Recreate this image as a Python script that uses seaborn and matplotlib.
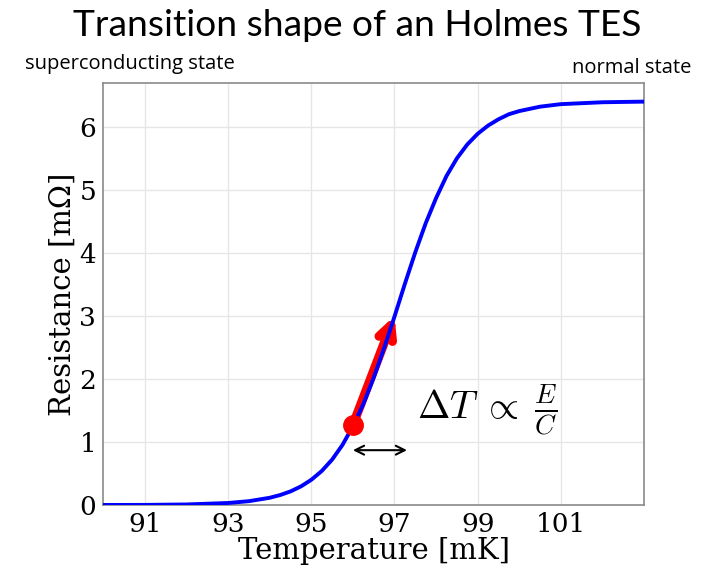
import numpy as np
import pandas as pd
import matplotlib
matplotlib.use("Agg")
import matplotlib.pyplot as plt
import seaborn as sns

# Data
temperature_mK = [90.0, 91.0, 92.0, 93.0, 93.5, 94.0, 94.25, 94.5, 94.75, 95.0,
                  95.25, 95.5, 95.75, 96.0, 96.25, 96.5, 96.75, 97.0, 97.25,
                  97.5, 97.75, 98.0, 98.25, 98.5, 98.75, 99.0, 99.25, 99.5,
                  99.75, 100.0, 100.5, 101.0, 102.0, 103.0]
resistance_mohm = [0.001, 0.002, 0.009, 0.032, 0.061, 0.115, 0.158, 0.216, 0.295, 0.40,
                   0.539, 0.72, 0.954, 1.25, 1.60, 2.02, 2.49, 2.99, 3.51,
                   4.01, 4.47, 4.87, 5.22, 5.50, 5.72, 5.89, 6.02, 6.12,
                   6.20, 6.25, 6.32, 6.36, 6.39, 6.40]
x_ticks = [91, 93, 95, 97, 99, 101]
y_ticks = [0, 1, 2, 3, 4, 5, 6]
dot_point = (96.0, 1.27)
arrow_tip = (97.0, 3.0)
dt_span = (96.0, 97.3)
dt_level = 0.87

df = pd.DataFrame({"T": temperature_mK, "R": resistance_mohm})

sns.set_style("whitegrid")
plt.rcParams["mathtext.fontset"] = "cm"
plt.rcParams["text.color"] = "black"
plt.rcParams["axes.labelcolor"] = "black"
plt.rcParams["xtick.color"] = "black"
plt.rcParams["ytick.color"] = "black"

fig = plt.figure(figsize=(7.15, 5.72), dpi=100)
ax = fig.add_axes([0.1445, 0.1171, 0.7563, 0.7383])

# red arrow (below curve)
ax.annotate("", xy=arrow_tip, xytext=dot_point,
            arrowprops=dict(arrowstyle="->", color="red", lw=6.5, mutation_scale=26,
                            shrinkA=0, shrinkB=0), zorder=2)

sns.lineplot(data=df, x="T", y="R", ax=ax, color="blue", lw=2.8, zorder=3)

ax.plot([dot_point[0]], [dot_point[1]], "o", color="red", markersize=14, zorder=4)

ax.annotate("", xy=(dt_span[1], dt_level), xytext=(dt_span[0], dt_level),
            arrowprops=dict(arrowstyle="<->", color="black", lw=1.5, mutation_scale=16,
                            shrinkA=0, shrinkB=0), zorder=4)

ax.text(97.55, 1.5, r"$\Delta T\;\propto\;\frac{E}{C}$", fontsize=28,
        va="center", ha="left", zorder=5)

ax.set_xlim(90, 103)
ax.set_ylim(0, 6.7)
ax.set_xticks(x_ticks)
ax.set_yticks(y_ticks)
ax.grid(True, color="#e6e6e6", lw=1)
for s in ax.spines.values():
    s.set_color("#8a8a8a")
    s.set_linewidth(1.2)
ax.tick_params(axis="both", which="both", direction="out", length=3, width=1,
               color="#8a8a8a", labelcolor="black", labelsize=19, pad=2)
for lbl in ax.get_xticklabels() + ax.get_yticklabels():
    lbl.set_fontfamily("DejaVu Serif")
ax.set_xlabel("Temperature [mK]", fontsize=21, family="DejaVu Serif", labelpad=0)
ax.set_ylabel("Resistance [m\u03a9]", fontsize=21, family="DejaVu Serif", labelpad=2)

fig.text(0.5, 0.955, "Transition shape of an Holmes TES", ha="center", va="center",
         fontsize=26.7, family="Lato", weight="normal")
fig.text(0.035, 0.888, "superconducting state", ha="left", va="center",
         fontsize=14.5, family="Open Sans")
fig.text(0.967, 0.881, "normal state", ha="right", va="center",
         fontsize=14.5, family="Open Sans")

fig.savefig("out.png", dpi=100)
